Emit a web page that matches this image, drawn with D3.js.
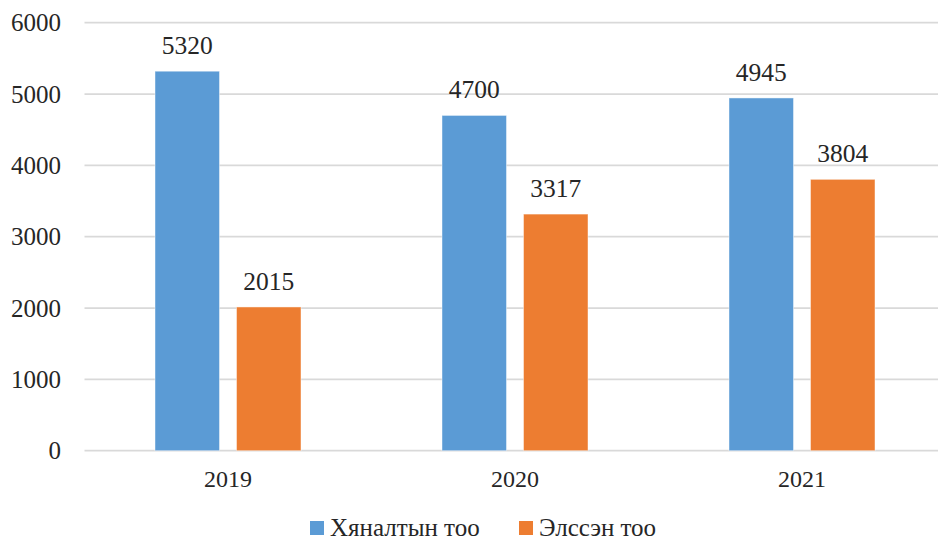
<!DOCTYPE html>
<html>
<head>
<meta charset="utf-8">
<script src="https://cdn.jsdelivr.net/npm/d3@7"></script>
<style>
  body { margin: 0; background: #fff; }
</style>
</head>
<body>
<div id="chart"></div>
<script>
// Chart data
const years = ["2019", "2020", "2021"];
const seriesNames = ["Хяналтын тоо", "Элссэн тоо"];
const controlCounts = [5320, 4700, 4945];
const enrolledCounts = [2015, 3317, 3804];
const yTicks = [0, 1000, 2000, 3000, 4000, 5000, 6000];

const colors = ["#5b9bd5", "#ed7d31"];
const fontFamily = "'Liberation Serif', 'Times New Roman', Tinos, serif";
const width = 938, height = 541;

const svg = d3.select("#chart")
  .append("svg")
  .attr("width", width)
  .attr("height", height)
  .style("font-family", fontFamily);

// Scales
const x0 = d3.scaleBand()
  .domain(years)
  .range([84.5, 945.5]);

const x1 = d3.scaleBand()
  .domain(seriesNames)
  .range([70.5, 216.5])
  .paddingInner(0.2086);

const y = d3.scaleLinear()
  .domain([0, 6000])
  .range([450.7, 22.7]);

// Gridlines
svg.append("g")
  .selectAll("line")
  .data(yTicks)
  .enter().append("line")
  .attr("x1", 84.5)
  .attr("x2", 938)
  .attr("y1", d => y(d))
  .attr("y2", d => y(d))
  .attr("stroke", "#d9d9d9")
  .attr("stroke-width", 1.8);

// Y tick labels
svg.append("g")
  .selectAll("text")
  .data(yTicks)
  .enter().append("text")
  .attr("x", 61)
  .attr("y", d => y(d) + 8.5)
  .attr("text-anchor", "end")
  .attr("fill", "#262626")
  .style("font-family", fontFamily)
  .style("font-size", "25px")
  .text(d => d);

// Bars
const rows = years.map((yr, i) => ({
  year: yr,
  values: [controlCounts[i], enrolledCounts[i]]
}));

const groups = svg.selectAll(".group")
  .data(rows)
  .enter().append("g")
  .attr("class", "group")
  .attr("transform", d => `translate(${x0(d.year)},0)`);

groups.selectAll("rect")
  .data(d => d.values.map((v, j) => ({ key: seriesNames[j], value: v, j })))
  .enter().append("rect")
  .attr("x", d => x1(d.key))
  .attr("y", d => y(d.value))
  .attr("width", x1.bandwidth())
  .attr("height", d => y(0) - y(d.value))
  .attr("fill", d => colors[d.j])
  .attr("stroke", "#ffffff")
  .attr("stroke-opacity", 0.45)
  .attr("stroke-width", 1);

groups.selectAll(".val")
  .data(d => d.values.map((v, j) => ({ key: seriesNames[j], value: v })))
  .enter().append("text")
  .attr("class", "val")
  .attr("x", d => x1(d.key) + x1.bandwidth() / 2)
  .attr("y", d => y(d.value) - 17)
  .attr("text-anchor", "middle")
  .attr("fill", "#262626")
  .style("font-family", fontFamily)
  .style("font-size", "25.5px")
  .text(d => d.value);

// X axis labels
svg.append("g")
  .selectAll("text")
  .data(years)
  .enter().append("text")
  .attr("x", d => x0(d) + 143.5)
  .attr("y", 486.5)
  .attr("text-anchor", "middle")
  .attr("fill", "#262626")
  .style("font-family", fontFamily)
  .style("font-size", "24px")
  .text(d => d);

// Legend
const legendX = [310, 519];
const legend = svg.selectAll(".legend")
  .data(seriesNames)
  .enter().append("g")
  .attr("class", "legend")
  .attr("transform", (d, i) => `translate(${legendX[i]},521)`);

legend.append("rect")
  .attr("width", 14)
  .attr("height", 14)
  .attr("fill", (d, i) => colors[i]);

legend.append("text")
  .attr("x", 20)
  .attr("y", 15)
  .attr("fill", "#262626")
  .style("font-family", fontFamily)
  .style("font-size", "25px")
  .text(d => d);
</script>
</body>
</html>
